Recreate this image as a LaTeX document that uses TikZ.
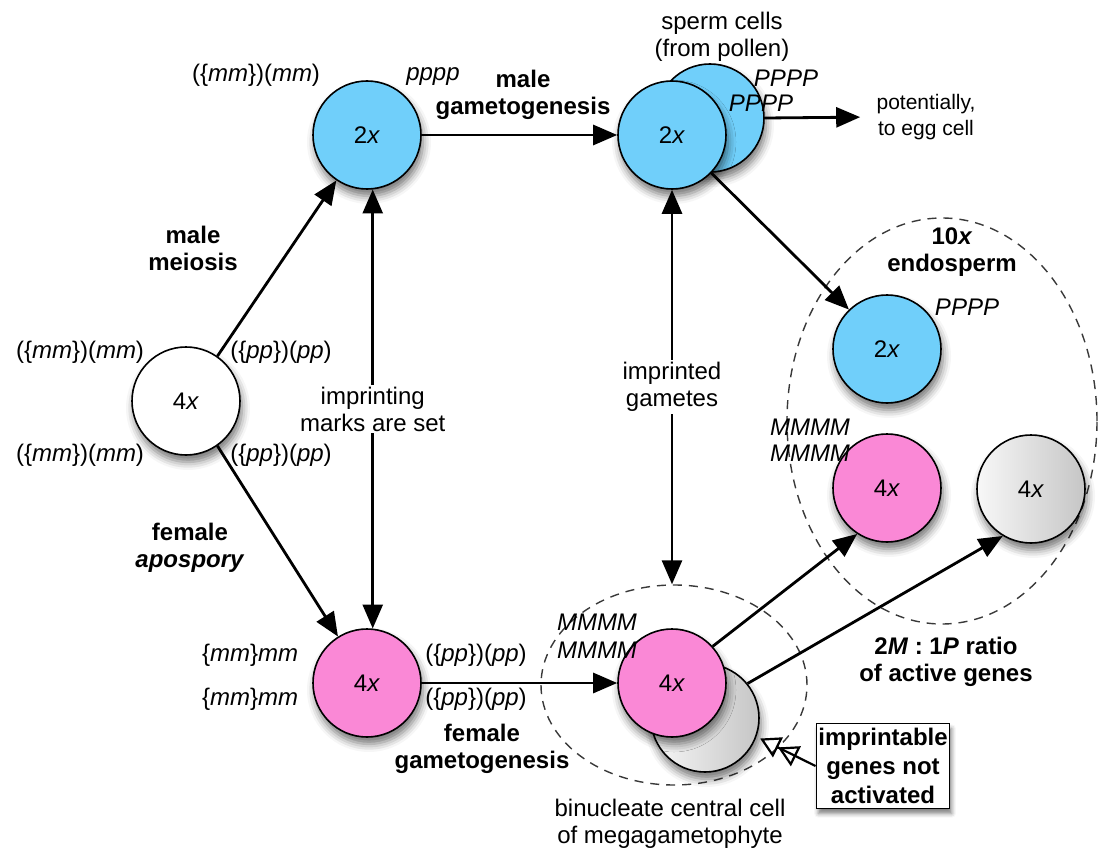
\documentclass[tikz,border=0pt]{standalone}
\usepackage{fontspec}
\setmainfont{Liberation Sans}
\usetikzlibrary{arrows.meta, shapes.geometric, shadows.blur}
\definecolor{cellblue}{RGB}{112,207,250}
\definecolor{cellpink}{RGB}{250,136,214}

\begin{document}
\begin{tikzpicture}[x=0.5pt, y=-0.5pt,
  cell/.style={circle, draw, line width=0.8pt, minimum size=54pt, inner sep=0pt,
    font=\fontsize{12}{14}\selectfont,
    blur shadow={shadow xshift=1pt, shadow yshift=-3.5pt, shadow opacity=55, shadow blur radius=4pt}},
  bluecell/.style={cell, fill=cellblue},
  pinkcell/.style={cell, fill=cellpink},
  graycell/.style={cell, left color=gray!6, right color=gray!45},
  flow/.style={-{Triangle[length=12pt, width=10pt]}, line width=1.4pt},
  both/.style={{Triangle[length=12pt, width=10pt]}-{Triangle[length=12pt, width=10pt]}, line width=1.4pt},
  halo/.style={ellipse, draw, dash pattern=on 4.5pt off 3.5pt, line width=0.7pt, gray!45!black, inner sep=0pt},
  lbl/.style={font=\fontsize{12}{13.5}\selectfont, align=center, inner sep=1pt},
  blbl/.style={lbl, font=\fontsize{12}{13.5}\selectfont\bfseries},
  gene/.style={font=\fontsize{12}{13.5}\selectfont, inner sep=0pt}
]
\useasboundingbox (0,0) rectangle (1099,856);

\node[halo, minimum width=155pt, minimum height=203pt] (endo) at (942,421) {};
\node[halo, minimum width=133pt, minimum height=100pt] (central) at (674,685) {};

\node[cell, fill=white] (mother) at (186,401) {4\textit{x}};
\node[bluecell] (pollen) at (367,135) {2\textit{x}};
\node[pinkcell] (sac) at (367,683) {4\textit{x}};
\node[bluecell] (spermB) at (710,118) {};
\node[bluecell] (sperm) at (672,135) {2\textit{x}};
\node[graycell] (polarB) at (705,718) {};
\node[pinkcell] (polar) at (672,683) {4\textit{x}};
\node[bluecell] (endoP) at (887,349) {2\textit{x}};
\node[pinkcell] (endoM) at (887,488) {4\textit{x}};
\node[graycell] (endoG) at (1031,489) {4\textit{x}};

\node[gene] at (256,75) {(\{\textit{mm}\})(\textit{mm})};
\node[gene] at (433,77) {\textit{pppp}};
\node[blbl] at (523,95) {male\\gametogenesis};
\node[lbl] at (722,37) {sperm cells\\(from pollen)};
\node[gene] at (786,78) {\textit{PPPP}};
\node[gene] at (761,103) {\textit{PPPP}};
\node[lbl, font=\fontsize{10.5}{13}\selectfont] (egg) at (926,117) {potentially,\\to egg cell};
\node[blbl] at (193,248) {male\\meiosis};
\node[gene] at (80,352) {(\{\textit{mm}\})(\textit{mm})};
\node[gene] at (80,455) {(\{\textit{mm}\})(\textit{mm})};
\node[gene] at (281,352) {(\{\textit{pp}\})(\textit{pp})};
\node[gene] at (281,455) {(\{\textit{pp}\})(\textit{pp})};
\node[blbl] at (190,548) {female\\\textit{apospory}};
\node[gene] at (250,655) {\{\textit{mm}\}\textit{mm}};
\node[gene] at (250,699) {\{\textit{mm}\}\textit{mm}};
\node[gene] at (476,655) {(\{\textit{pp}\})(\textit{pp})};
\node[gene] at (476,699) {(\{\textit{pp}\})(\textit{pp})};
\node[blbl] at (482,749) {female\\gametogenesis};
\node[gene] at (597,622) {\textit{MMMM}};
\node[gene] at (597,650) {\textit{MMMM}};
\node[lbl] at (670,824) {binucleate central cell\\of megagametophyte};
\node[blbl] at (946,662) {2\textit{M} : 1\textit{P} ratio\\of active genes};
\node[blbl] at (952,252) {10\textit{x}\\endosperm};
\node[gene] at (967,307) {\textit{PPPP}};
\node[gene] at (810,427) {\textit{MMMM}};
\node[gene] at (810,453) {\textit{MMMM}};
\node[blbl, font=\fontsize{12}{14.5}\selectfont\bfseries, draw, fill=white, line width=0.8pt,
  minimum width=65pt, minimum height=42.5pt,
  blur shadow={shadow xshift=1pt, shadow yshift=-2.5pt, shadow opacity=50}] (box) at (883,766)
  {imprintable\\genes not\\activated};

\draw[flow] (mother.55) -- (pollen.236);
\draw[flow] (mother.-55) -- (sac.122);
\draw[both] (pollen.-84) -- node[lbl, fill=white] {imprinting\\marks are set} (sac.84);
\draw[flow] (pollen.east) -- (sperm.west);
\draw[flow, shorten >=7pt] (spermB.east) -- (egg.west);
\draw[flow] (sperm.-44) -- (endoP.134);
\draw[both] (sperm.south) -- node[lbl, fill=white] {imprinted\\gametes} (sperm.south |- central.north);
\draw[flow] (sac.east) -- (polar.west);
\draw[flow] (polar.42) -- (endoM.237);
\draw[flow] (polarB.39) -- (endoG.239);
\draw[-{Triangle[open, length=10pt, width=11pt]Triangle[open, length=10pt, width=11pt]}, line width=1.1pt, shorten >=2pt]
  (box.west) -- (polarB.-20);
\end{tikzpicture}
\end{document}
